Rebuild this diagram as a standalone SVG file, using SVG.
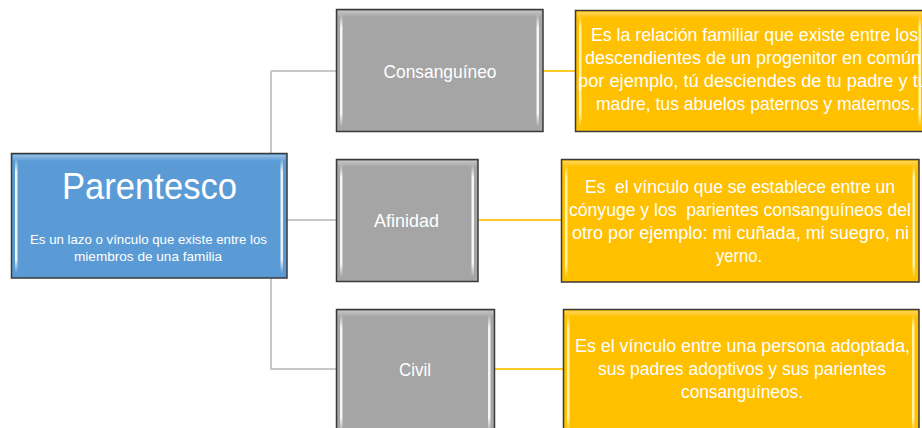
<svg xmlns="http://www.w3.org/2000/svg" width="922" height="428" viewBox="0 0 922 428">
<defs>
<linearGradient id="hl" x1="0" y1="0" x2="0" y2="1">
<stop offset="0" stop-color="#fff" stop-opacity="0"/>
<stop offset="0.12" stop-color="#fff" stop-opacity="0.9"/>
<stop offset="0.88" stop-color="#fff" stop-opacity="0.9"/>
<stop offset="1" stop-color="#fff" stop-opacity="0"/>
</linearGradient>
<linearGradient id="hly" x1="0" y1="0" x2="0" y2="1">
<stop offset="0" stop-color="#fff6b0" stop-opacity="0"/>
<stop offset="0.12" stop-color="#fff6b0" stop-opacity="0.95"/>
<stop offset="0.88" stop-color="#fff6b0" stop-opacity="0.95"/>
<stop offset="1" stop-color="#fff6b0" stop-opacity="0"/>
</linearGradient>
<linearGradient id="topsh" x1="0" y1="0" x2="0" y2="1">
<stop offset="0" stop-color="#fff" stop-opacity="0.35"/>
<stop offset="1" stop-color="#fff" stop-opacity="0"/>
</linearGradient>
</defs>
<style>
.box{stroke:#3a3a3a;stroke-width:1.5}
.blue{fill:#5b9bd5}
.gray{fill:#a5a5a5}
.yel{fill:#ffc000}
.hl{fill:url(#hl)}
.hly{fill:url(#hly)}
.top{fill:url(#topsh)}
text{font-family:"Liberation Sans",Arial,sans-serif;fill:#fff;text-anchor:middle}
.lab{font-size:19px}
.desc{font-size:17.5px}
.start{text-anchor:start}
.gc{fill:none;stroke:#c8c8c8;stroke-width:2}
.oc{fill:none;stroke:#ffc000;stroke-opacity:0.85;stroke-width:2.2}
</style>

<g id="connectors">
<path class="gc" d="M271,71 H336 M271,71 V369 H336 M287,220 H336"/>
<path class="oc" d="M543,71 H575 M478,220 H561 M495,369 H563"/>
</g>

<g id="parentesco">
<rect class="box blue" x="11.5" y="153.5" width="275.5" height="124.5"/>
<rect class="top" x="13" y="155" width="272.5" height="6"/>
<rect class="hl" x="15" y="158" width="2.5" height="115"/>
<rect class="hl" x="280.5" y="158" width="2.5" height="115"/>
<text x="149.5" y="199" font-size="37" textLength="175" lengthAdjust="spacingAndGlyphs">Parentesco</text>
<text x="148.5" y="244" font-size="13.5" textLength="237" lengthAdjust="spacingAndGlyphs">Es un lazo o vínculo que existe entre los</text>
<text x="148" y="261" font-size="13.5" textLength="148" lengthAdjust="spacingAndGlyphs">miembros de una familia</text>
</g>

<g id="consanguineo">
<rect class="box gray" x="336.5" y="9.5" width="206.5" height="122"/>
<rect class="top" x="338" y="11" width="203.5" height="6"/>
<rect class="hl" x="340" y="14" width="2.5" height="113"/>
<rect class="hl" x="536.5" y="14" width="2.5" height="113"/>
<text class="lab" x="440" y="78" textLength="113" lengthAdjust="spacingAndGlyphs">Consanguíneo</text>
</g>

<g id="afinidad">
<rect class="box gray" x="336.5" y="159.5" width="141.5" height="122"/>
<rect class="top" x="338" y="161" width="138.5" height="6"/>
<rect class="hl" x="340" y="164" width="2.5" height="113"/>
<rect class="hl" x="471.5" y="164" width="2.5" height="113"/>
<text class="lab" x="406.5" y="227" textLength="65" lengthAdjust="spacingAndGlyphs">Afinidad</text>
</g>

<g id="civil">
<rect class="box gray" x="336.5" y="309.5" width="158" height="130"/>
<rect class="top" x="338" y="311" width="155" height="6"/>
<rect class="hl" x="340" y="314" width="2.5" height="118"/>
<rect class="hl" x="488" y="314" width="2.5" height="118"/>
<text class="lab" x="415" y="376" textLength="32" lengthAdjust="spacingAndGlyphs">Civil</text>
</g>

<g id="desc-consanguineo">
<rect class="box yel" x="575.5" y="10.5" width="352" height="121"/>
<rect class="top" x="577" y="12" width="349" height="6"/>
<rect class="hly" x="579" y="15" width="2.5" height="112"/>
<rect class="hly" x="918.5" y="15" width="2.5" height="112"/>
<text class="desc" x="754.5" y="41" textLength="327" lengthAdjust="spacingAndGlyphs">Es la relación familiar que existe entre los</text>
<text class="desc start" x="585" y="64" textLength="336" lengthAdjust="spacingAndGlyphs">descendientes de un progenitor en común</text>
<text class="desc start" x="578" y="87" textLength="350" lengthAdjust="spacingAndGlyphs">por ejemplo, tú desciendes de tu padre y tu</text>
<text class="desc" x="755.5" y="110" textLength="319" lengthAdjust="spacingAndGlyphs">madre, tus abuelos paternos y maternos.</text>
</g>

<g id="desc-afinidad">
<rect class="box yel" x="561.5" y="159.5" width="357.5" height="122.5"/>
<rect class="top" x="563" y="161" width="354.5" height="6"/>
<rect class="hly" x="565" y="164" width="2.5" height="114"/>
<rect class="hly" x="912.5" y="164" width="2.5" height="114"/>
<text class="desc" x="740" y="193" xml:space="preserve" textLength="310" lengthAdjust="spacingAndGlyphs">Es  el vínculo que se establece entre un</text>
<text class="desc" x="740" y="216" xml:space="preserve" textLength="342" lengthAdjust="spacingAndGlyphs">cónyuge y los  parientes consanguíneos del</text>
<text class="desc" x="740.5" y="239" textLength="337" lengthAdjust="spacingAndGlyphs">otro por ejemplo: mi cuñada, mi suegro, ni</text>
<text class="desc" x="739" y="262" textLength="46" lengthAdjust="spacingAndGlyphs">yerno.</text>
</g>

<g id="desc-civil">
<rect class="box yel" x="563.5" y="309.5" width="355.5" height="130"/>
<rect class="top" x="565" y="311" width="352.5" height="6"/>
<rect class="hly" x="567" y="314" width="2.5" height="118"/>
<rect class="hly" x="912" y="314" width="2.5" height="118"/>
<text class="desc" x="742.5" y="352" textLength="335" lengthAdjust="spacingAndGlyphs">Es el vínculo entre una persona adoptada,</text>
<text class="desc" x="742" y="375" textLength="288" lengthAdjust="spacingAndGlyphs">sus padres adoptivos y sus parientes</text>
<text class="desc" x="742" y="398" textLength="122" lengthAdjust="spacingAndGlyphs">consanguíneos.</text>
</g>
</svg>
